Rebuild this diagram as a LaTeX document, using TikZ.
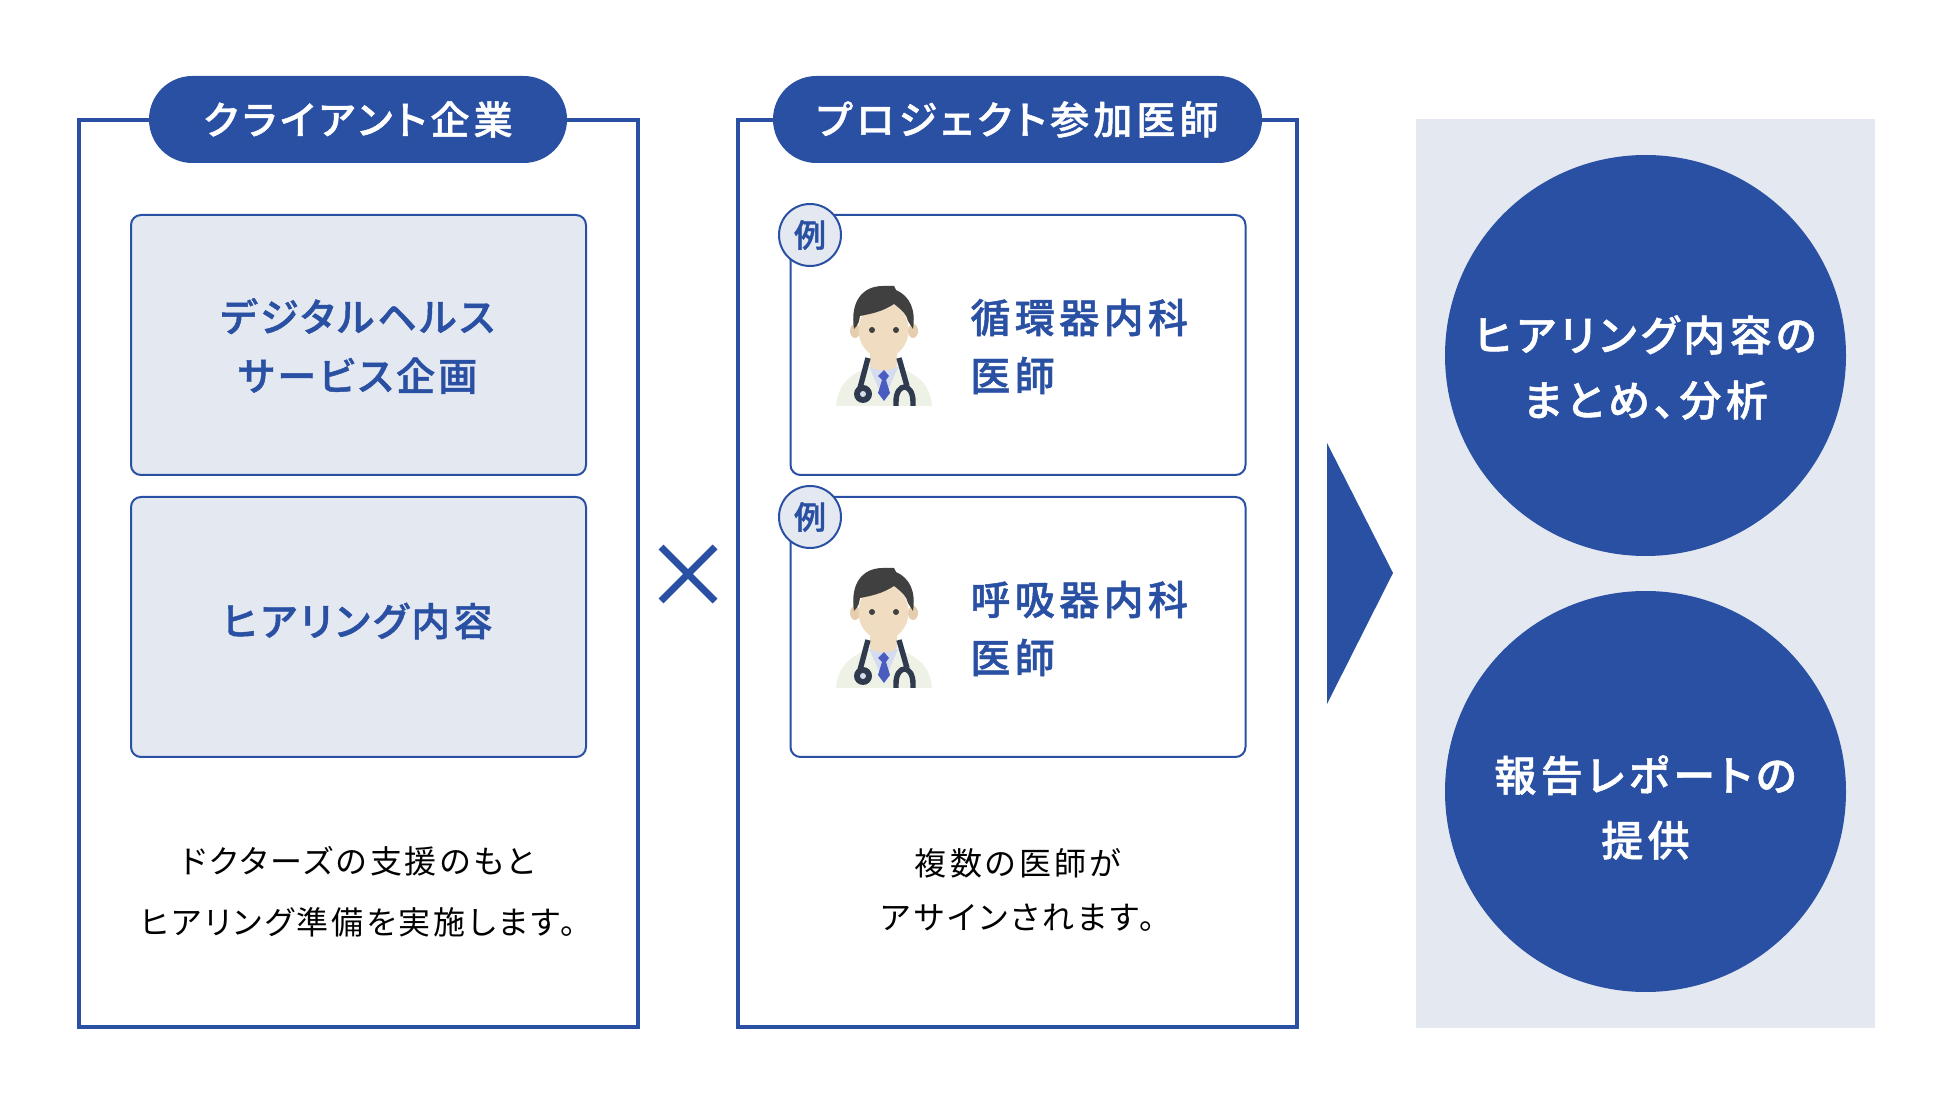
\documentclass[tikz,border=0pt]{standalone}
\usepackage{fontspec}
\setmainfont{Noto Sans CJK JP}[RawFeature=+palt,BoldFont=* Medium,BoldFeatures={FakeBold=1.2}]
\definecolor{mainblue}{HTML}{2A50A3}
\definecolor{palegray}{HTML}{E4E8F1}
\tikzset{
  framebox/.style={draw=mainblue,line width=2pt,fill=white,minimum width=279.5pt,minimum height=453pt},
  titlepill/.style={fill=mainblue,text=white,rounded corners=21.7pt,minimum height=43.5pt,font=\titlefont},
  graybox/.style={draw=mainblue,line width=1pt,fill=palegray,rounded corners=5pt,minimum width=227.5pt,minimum height=130pt},
  whitecard/.style={graybox,fill=white},
  boxtext/.style={text=mainblue,align=center,font=\boxfont},
  tagcircle/.style={circle,draw=mainblue,line width=1pt,fill=palegray,minimum size=31pt,inner sep=0pt,text=mainblue,font=\tagfont},
  cardtext/.style={anchor=west,inner sep=0pt,text=mainblue,align=left,font=\cardfont},
  bigcircle/.style={circle,fill=mainblue,minimum size=200.5pt,inner sep=0pt},
  circletext/.style={text=white,align=center,font=\circlefont},
  notetext/.style={align=center,font=\notefont},
  pics/doctor/.style={code={
    % white coat, shirt and tie
    \fill[coatgreen] (66,216) .. controls (68,195) and (78,186) .. (98,177) -- (128,177) .. controls (150,186) and (160,195) .. (162,216) -- cycle;
    \fill[shirtblue] (99,177) -- (128,177) -- (114,210) -- cycle;
    \fill[skintone] (100,160) -- (127,160) -- (127,176) .. controls (120,182) and (107,182) .. (100,176) -- cycle;
    \fill[tieblue] (114,180) -- (119,186) -- (116,190) -- (120,203) -- (114,211) -- (108,203) -- (112,190) -- (108,186) -- cycle;
    % ears, face and hair
    \fill[earbrown] (85,141) ellipse (5 and 7);
    \fill[earbrown] (143,141) ellipse (5 and 7);
    \fill[skintone] (113.5,140) ellipse (25 and 28);
    \fill[hairdark] (84,139) .. controls (80,112) and (92,96) .. (113,96) -- (124,96) -- (126,100) .. controls (140,106) and (146,120) .. (143,139) -- (138,131) .. controls (137,125) and (132,120) .. (124,114) .. controls (112,122) and (100,124) .. (90,126) .. controls (89,131) and (89,134) .. (84,139) -- cycle;
    \fill[hairdark] (102,140) circle (3);
    \fill[hairdark] (126,140) circle (3);
    % stethoscope
    \draw[tubedark,line width=2.7pt] (98,168) -- (90,198);
    \draw[tubedark,line width=2.7pt] (129,168) -- (137,196);
    \draw[tubedark,line width=2.7pt] (126,216) -- (126,212) .. controls (126,192) and (143,192) .. (143,212) -- (143,216);
    \fill[tubedark] (93,204) circle (9);
    \fill[shirtblue] (93,204) circle (3);
  }},
}
\definecolor{coatgreen}{HTML}{EEF2E6}
\definecolor{shirtblue}{HTML}{D5DCEF}
\definecolor{skintone}{HTML}{F0DCC0}
\definecolor{earbrown}{HTML}{E6CDAE}
\definecolor{hairdark}{HTML}{404040}
\definecolor{tieblue}{HTML}{4A5CC0}
\definecolor{tubedark}{HTML}{2F3A4F}
\newcommand{\titlefont}{\fontsize{19.5}{24}\selectfont\bfseries\addfontfeature{LetterSpace=10.5}}
\newcommand{\boxfont}{\fontsize{19.5}{29.5}\selectfont\bfseries\addfontfeature{LetterSpace=8}}
\newcommand{\cardfont}{\fontsize{20}{29}\selectfont\bfseries\addfontfeature{LetterSpace=11}}
\newcommand{\circlefont}{\fontsize{21}{32.5}\selectfont\bfseries\addfontfeature{LetterSpace=10.5}}
\newcommand{\tagfont}{\fontsize{16}{18}\selectfont\bfseries}
\newcommand{\notefont}{\fontsize{16}{30.5}\selectfont\addfontfeature{LetterSpace=9}}
\begin{document}
\begin{tikzpicture}[x=0.5pt,y=-0.5pt]
\useasboundingbox (0,0) rectangle (1950,1106);
% client side
\node[framebox] (clientframe) at (358,573.5) {};
\node[titlepill,minimum width=209pt] (clienttitle) at (358,119.5) {クライアント企業};
\node[graybox] (servicebox) at (358.5,345) {};
\node[boxtext] (servicetext) at (357.5,346) {デジタルヘルス\\サービス企画};
\node[graybox] (hearingbox) at (358.5,627) {};
\node[boxtext] (hearingtext) at (357.5,621) {ヒアリング内容};
\node[notetext] (clientnote) at (358,892) {ドクターズの支援のもと\\ヒアリング準備を実施します。};
% cross between the two frames
\draw[mainblue,line width=3.5pt] (661,547) -- (715,601);
\draw[mainblue,line width=3.5pt] (715,547) -- (661,601);
% doctor side
\node[framebox] (doctorframe) at (1017.5,573.5) {};
\node[titlepill,minimum width=244.5pt] (doctortitle) at (1017.5,119.5) {プロジェクト参加医師};
\node[whitecard] (cardone) at (1018,345) {};
\node[whitecard] (cardtwo) at (1018,627) {};
\node[tagcircle] (tagone) at (810,235) {例};
\node[tagcircle] (tagtwo) at (810,517) {例};
\pic at (770,190) {doctor};
\pic at (770,472) {doctor};
\node[cardtext] (cardonetext) at (970,346.5) {循環器内科\\医師};
\node[cardtext] (cardtwotext) at (970,628.5) {呼吸器内科\\医師};
\node[notetext,font=\fontsize{16}{27}\selectfont\addfontfeature{LetterSpace=10}] (doctornote) at (1018,890) {複数の医師が\\アサインされます。};
% arrow and results
\fill[mainblue] (1327,443) -- (1393,573) -- (1327,704) -- cycle;
\fill[palegray] (1415.5,119) rectangle (1874.5,1028);
\node[bigcircle] (summarycircle) at (1645.5,355.5) {};
\node[circletext] (summarytext) at (summarycircle.center) [yshift=-6pt] {ヒアリング内容の\\まとめ、分析};
\node[bigcircle] (reportcircle) at (1645.5,791.5) {};
\node[circletext] (reporttext) at (reportcircle.center) [yshift=-8pt] {報告レポートの\\提供};
\end{tikzpicture}
\end{document}
